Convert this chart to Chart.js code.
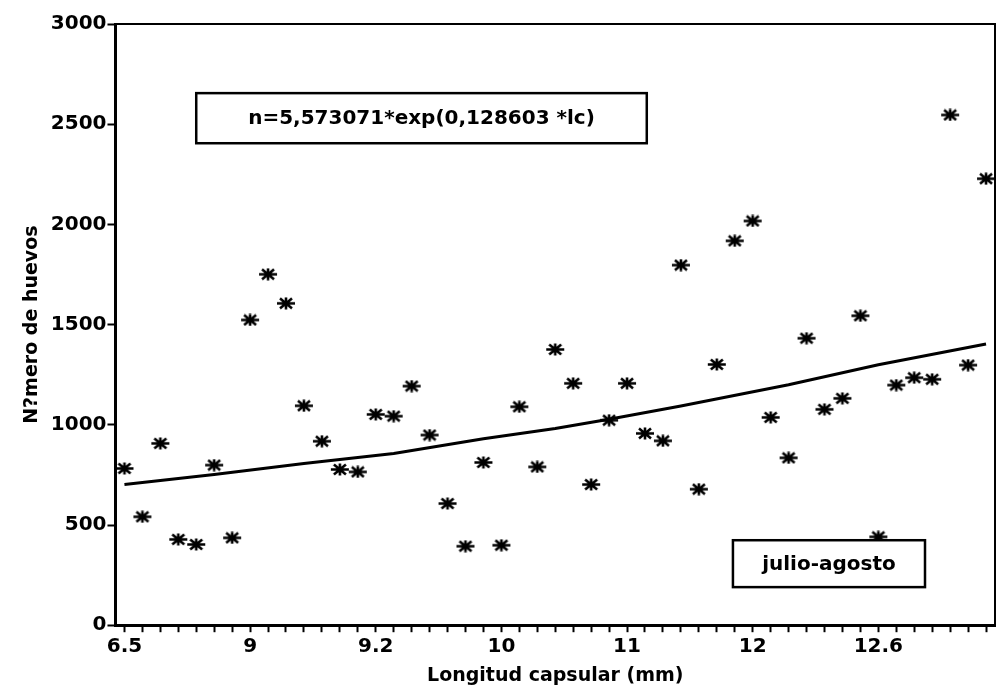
<!DOCTYPE html>
<html lang="es">
<head>
    <meta charset="UTF-8">
    <title>Longitud capsular - julio-agosto</title>
    <script src="https://cdn.jsdelivr.net/npm/chart.js"></script>
    <style>
        html, body { margin: 0; padding: 0; background: white; }
        #wrap { width: 998px; height: 690px; }
    </style>
</head>
<body>
    <div id="wrap"><canvas id="huevosChart"></canvas></div>

    <script>
        // categories: capsule length of each capsule (only the printed ones are known)
        const lcLabels = [
            '6.5', '', '', '', '', '', '',
            '9', '', '', '', '', '', '',
            '9.2', '', '', '', '', '', '',
            '10', '', '', '', '', '', '',
            '11', '', '', '', '', '', '',
            '12', '', '', '', '', '', '',
            '12.6', '', '', '', '', '', ''
        ];

        // number of eggs per capsule
        const huevos = [
            782, 541, 907, 428, 403, 799, 436,
            1523, 1751, 1606, 1095, 918, 777, 765,
            1052, 1043, 1193, 949, 607, 394, 812,
            399, 1090, 790, 1376, 1207, 702, 1023,
            1207, 957, 920, 1797, 679, 1301, 1918,
            2017, 1037, 835, 1432, 1077, 1132, 1544,
            441, 1198, 1235, 1227, 2546, 1298, 2228
        ];

        // fitted curve, read at a few capsules
        const fitIndex = [0, 5, 10, 15, 20, 24, 27, 31, 37, 42, 48];
        const fitValues = [702, 752, 807, 857, 930, 982, 1028, 1094, 1200, 1300, 1403];

        const yTicks = [0, 500, 1000, 1500, 2000, 2500, 3000];

        const formula = 'n=5,573071*exp(0,128603 *lc)';
        const periodo = 'julio-agosto';

        let fitData = lcLabels.map(() => null);
        fitIndex.forEach((idx, k) => { fitData[idx] = fitValues[k]; });

        // asterisk marker, a bit wider than tall like in the print
        function makeStar() {
            let c = document.createElement('canvas');
            c.width = 20; c.height = 13;
            let g = c.getContext('2d');
            g.strokeStyle = '#000';
            g.lineWidth = 2.6;
            g.beginPath();
            g.moveTo(1, 6.5); g.lineTo(19, 6.5);
            g.moveTo(4, 1.5); g.lineTo(16, 11.5);
            g.moveTo(4, 11.5); g.lineTo(16, 1.5);
            g.moveTo(10, 0.5); g.lineTo(10, 12.5);
            g.stroke();
            return c;
        }

        const fontFamily = '"DejaVu Sans", sans-serif';
        Chart.defaults.color = '#000';
        Chart.defaults.font.family = fontFamily;

        // frame and the two text boxes
        const decorPlugin = {
            id: 'decor',
            afterDatasetsDraw(chart) {
                const ctx = chart.ctx;
                const a = chart.chartArea;
                const xs = chart.scales.x, ys = chart.scales.y;
                ctx.save();
                ctx.strokeStyle = '#000';
                ctx.lineWidth = 2;
                ctx.beginPath();
                ctx.moveTo(a.left, a.top);
                ctx.lineTo(a.right, a.top);
                ctx.lineTo(a.right, a.bottom);
                ctx.stroke();

                function box(x0, x1, y0, y1, text) {
                    const l = xs.getPixelForValue(x0), r = xs.getPixelForValue(x1);
                    const t = ys.getPixelForValue(y1), b = ys.getPixelForValue(y0);
                    ctx.fillStyle = '#fff';
                    ctx.fillRect(l, t, r - l, b - t);
                    ctx.lineWidth = 2.5;
                    ctx.strokeRect(l, t, r - l, b - t);
                    ctx.fillStyle = '#000';
                    ctx.font = 'bold 20px ' + fontFamily;
                    ctx.textAlign = 'center';
                    ctx.textBaseline = 'middle';
                    ctx.fillText(text, (l + r) / 2, (t + b) / 2 + 1);
                }
                box(4.0, 29.1, 2405, 2655, formula);
                box(33.9, 44.6, 190, 424, periodo);
                ctx.restore();
            }
        };

        let ctx = document.getElementById('huevosChart').getContext('2d');
        let huevosChart = new Chart(ctx, {
            type: 'line',
            data: {
                labels: lcLabels,
                datasets: [
                    {
                        label: 'Ajuste',
                        data: fitData,
                        borderColor: '#000',
                        borderWidth: 3,
                        pointRadius: 0,
                        spanGaps: true,
                        fill: false,
                        tension: 0
                    },
                    {
                        label: 'N\u00famero de huevos',
                        data: huevos,
                        showLine: false,
                        pointStyle: makeStar(),
                        pointRadius: 6
                    }
                ]
            },
            options: {
                responsive: true,
                maintainAspectRatio: false,
                animation: false,
                layout: {
                    autoPadding: false,
                    padding: { left: 17, right: 3, top: 24, bottom: 0 }
                },
                plugins: {
                    legend: { display: false },
                    tooltip: { enabled: false }
                },
                scales: {
                    x: {
                        type: 'category',
                        offset: true,
                        grid: {
                            drawOnChartArea: false,
                            offset: false,
                            tickLength: 7,
                            tickWidth: 2,
                            tickColor: '#000'
                        },
                        border: { display: true, color: '#000', width: 3 },
                        ticks: {
                            autoSkip: false,
                            maxRotation: 0,
                            padding: 3,
                            font: { size: 20, weight: 'bold' }
                        },
                        title: {
                            display: true,
                            text: 'Longitud capsular (mm)',
                            font: { size: 19, weight: 'bold' },
                            padding: { top: 2, bottom: 3 }
                        }
                    },
                    y: {
                        min: 0,
                        max: 3000,
                        afterBuildTicks(scale) {
                            scale.ticks = yTicks.map(v => ({ value: v }));
                        },
                        grid: {
                            drawOnChartArea: false,
                            tickLength: 8,
                            tickWidth: 2,
                            tickColor: '#000'
                        },
                        border: { display: true, color: '#000', width: 3 },
                        ticks: {
                            padding: 1,
                            font: { size: 20, weight: 'bold' },
                            callback: v => String(v)
                        },
                        title: {
                            display: true,
                            text: 'N?mero de huevos',
                            font: { size: 19, weight: 'bold' },
                            padding: { top: 4, bottom: 6 }
                        }
                    }
                }
            },
            plugins: [decorPlugin]
        });
    </script>
</body>
</html>
